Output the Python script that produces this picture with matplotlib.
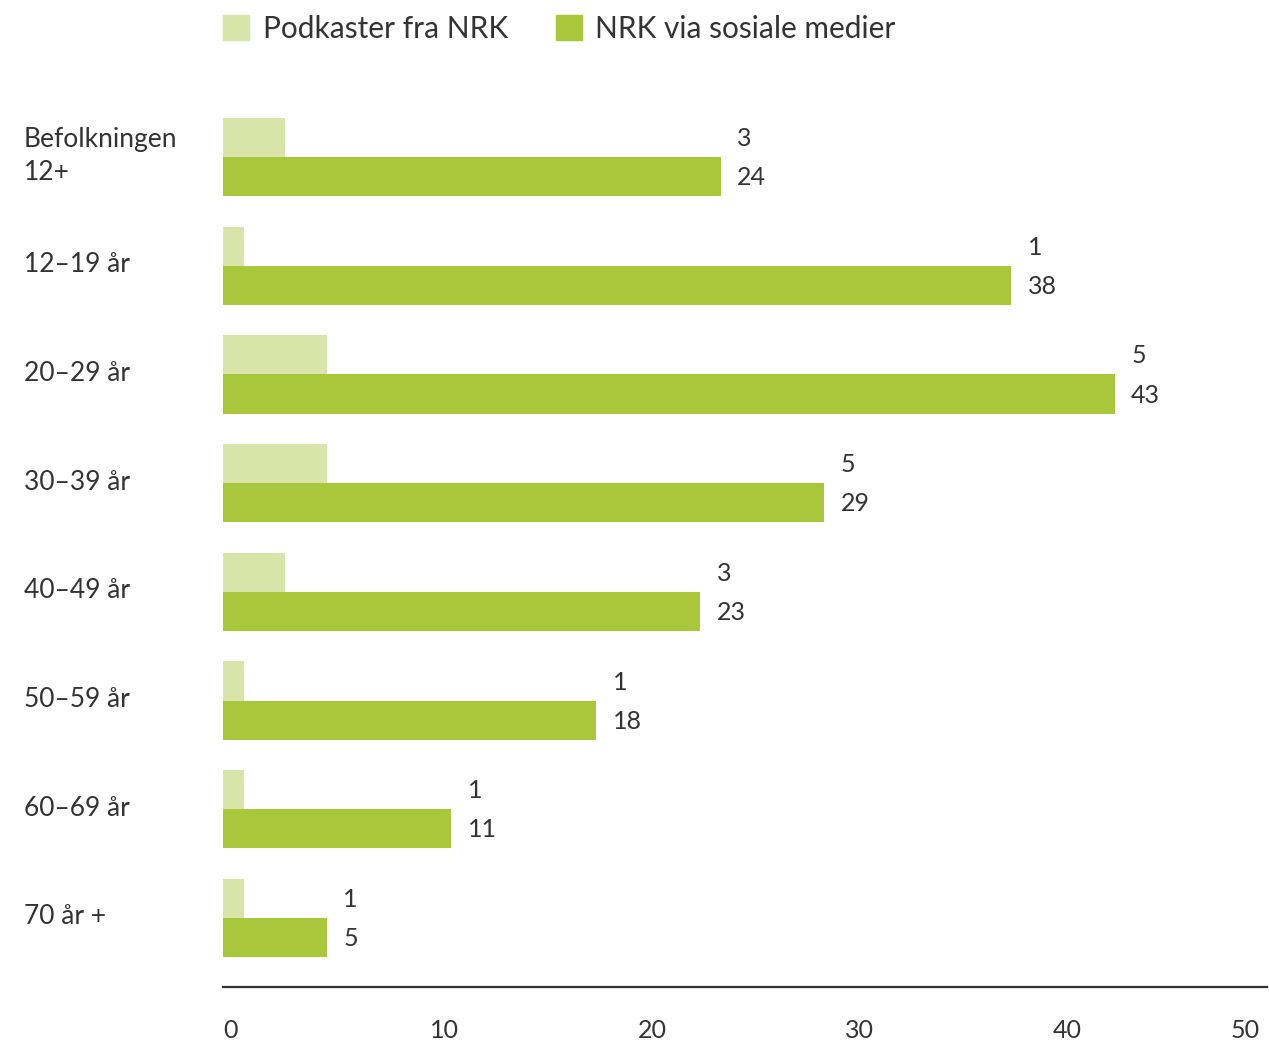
import matplotlib.pyplot as plt
from matplotlib.patches import Patch
import numpy as np

categories = ["Befolkningen\n12+", "12–19 år", "20–29 år", "30–39 år",
              "40–49 år", "50–59 år", "60–69 år", "70 år +"]
podkast = [3, 1, 5, 5, 3, 1, 1, 1]
sosiale = [24, 38, 43, 29, 23, 18, 11, 5]
series_names = ["Podkaster fra NRK", "NRK via sosiale medier"]
xticks = [0, 10, 20, 30, 40, 50]

light = "#d9e4ab"
dark = "#a8c73a"
text_col = "#333333"

plt.rcParams['font.family'] = ['Lato', 'DejaVu Sans']

fig = plt.figure(figsize=(12.69, 10.41), dpi=100)
ax = fig.add_axes([223 / 1269, (1041 - 987) / 1041, 1044 / 1269, 887 / 1041])

y = np.arange(len(categories))
h = 0.36
ax.barh(y - h / 2, podkast, height=h, color=light)
ax.barh(y + h / 2, sosiale, height=h, color=dark)

for i in range(len(categories)):
    xl = max(podkast[i], sosiale[i]) + 0.8
    ax.text(xl, y[i] - h / 2 + 0.01, str(podkast[i]), va="center", ha="left",
            fontsize=18, color=text_col)
    ax.text(xl, y[i] + h / 2 + 0.01, str(sosiale[i]), va="center", ha="left",
            fontsize=18, color=text_col)
    ax.text(-9.6, y[i] - 0.01, categories[i], va="center", ha="left",
            fontsize=19, color=text_col, linespacing=1.42)

ax.set_xlim(0, 50.35)
ax.set_ylim(7.635, -0.524)
ax.set_yticks([])
ax.set_xticks(xticks)
ax.set_xticklabels([str(t) for t in xticks], fontsize=18, color=text_col)
for lab in ax.get_xticklabels():
    lab.set_horizontalalignment("left")
ax.get_xticklabels()[-1].set_horizontalalignment("right")
ax.tick_params(axis="x", length=0, pad=23)

for s in ["top", "left", "right"]:
    ax.spines[s].set_visible(False)
ax.spines["bottom"].set_color(text_col)
ax.spines["bottom"].set_linewidth(1.6)

handles = [Patch(color=light), Patch(color=dark)]
fig.legend(handles, series_names, loc="upper left",
           bbox_to_anchor=(223 / 1269, 1 - 15 / 1041), frameon=False,
           ncol=2, fontsize=21.5, handlelength=0.88, handleheight=0.88,
           handletextpad=0.45, columnspacing=1.6, borderaxespad=0,
           borderpad=0, labelcolor=text_col)

plt.savefig("out.png", dpi=100)
